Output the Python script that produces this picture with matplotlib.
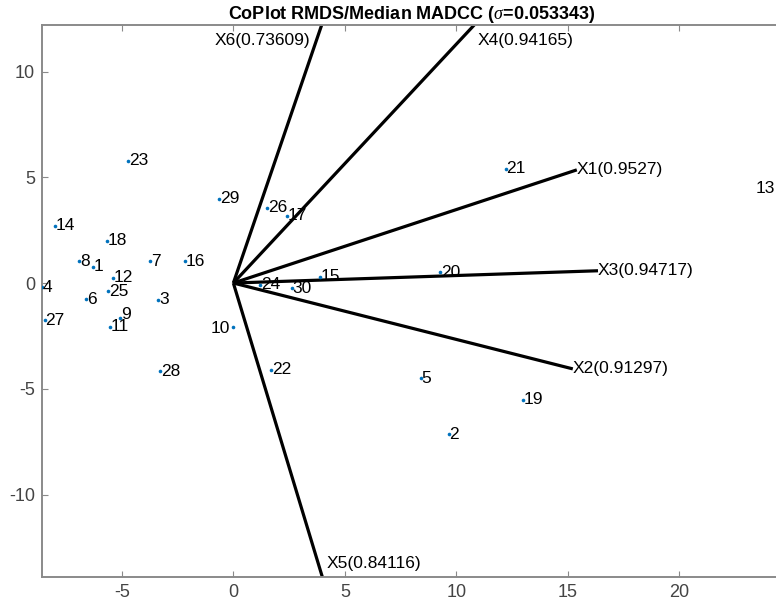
import numpy as np
import matplotlib
matplotlib.use("Agg")
import matplotlib.pyplot as plt

plt.rcParams['font.family'] = ['Liberation Sans', 'DejaVu Sans']
plt.rcParams['axes.unicode_minus'] = False
plt.rcParams['mathtext.fontset'] = 'custom'
plt.rcParams['mathtext.it'] = 'Liberation Serif:italic'

# observations (CoPlot coordinates)
obs_id = list(range(1, 31))
obs_x = [-6.31, 9.65, -3.36, -8.57, 8.40, -6.61, -3.73, -6.91, -5.08, -0.03,
         -5.53, -5.38, 24.60, -8.00, 3.87, -2.16, 2.41, -5.65, 13.00, 9.27,
         12.22, 1.71, -4.71, 1.21, -5.60, 1.51, -8.45, -3.28, -0.63, 2.61]
obs_y = [0.77, -7.15, -0.80, -0.20, -4.51, -0.76, 1.04, 1.04, -1.64, -2.07,
         -2.07, 0.25, 4.45, 2.70, 0.30, 1.04, 3.17, 1.99, -5.51, 0.51,
         5.40, -4.09, 5.77, -0.09, -0.38, 3.56, -1.75, -4.16, 3.98, -0.25]

# variable arrows
var_names = ['X1', 'X2', 'X3', 'X4', 'X5', 'X6']
var_corr = ['0.9527', '0.91297', '0.94717', '0.94165', '0.84116', '0.73609']
var_x = [15.40, 15.22, 16.35, 10.80, 3.99, 3.96]
var_y = [5.35, -4.06, 0.58, 12.20, -13.90, 12.20]

sigma = '0.053343'

# label offsets in points (dx, dy, ha) for the few that differ
obs_offsets = {10: (-2, -1, 'right'), 13: (-5, 0, 'right'), 9: (0.5, 2, 'left')}

fig = plt.figure(figsize=(7.76, 6.02), dpi=100)
ax = fig.add_axes([42 / 776, 25 / 602, 740 / 776, 552 / 602])

# arrows from the origin
for vx, vy in zip(var_x, var_y):
    ax.plot([0, vx], [0, vy], color='black', lw=2.3, solid_capstyle='butt')

# arrow labels (kept inside the box)
for name, c, vx, vy in zip(var_names, var_corr, var_x, var_y):
    ha = 'right' if name == 'X6' else 'left'
    ly = min(max(vy, -13.25), 11.45)
    lx = vx
    if name == 'X6':
        lx = vx - 0.5
    elif name == 'X4':
        lx = vx + 0.15
    elif name == 'X5':
        lx = vx + 0.2
    ax.text(lx, ly, f'{name}({c})', ha=ha, va='center', fontsize=12.5,
            color='black', clip_on=False)

# observation points
ax.plot(obs_x, obs_y, 'o', color='#0072BD', ms=2.6, mew=0, zorder=3)
for i, x, y in zip(obs_id, obs_x, obs_y):
    dx, dy, ha = obs_offsets.get(i, (0.5, 0, 'left'))
    ax.annotate(str(i), (x, y), xytext=(dx, dy), textcoords='offset points',
                ha=ha, va='center', fontsize=12.5, annotation_clip=False)

ax.set_xlim(-8.58, 24.6)
ax.set_ylim(-13.9, 12.2)
ax.set_xticks([-5, 0, 5, 10, 15, 20])
ax.set_yticks([-10, -5, 0, 5, 10])
ax.tick_params(direction='in', length=4.5, width=0.8, colors='#8a8a8a',
               labelcolor='#444444', labelsize=13, top=True, right=True, pad=5)
for s in ax.spines.values():
    s.set_color('#8a8a8a')
    s.set_linewidth(1.4)
ax.spines['right'].set_visible(False)

ax.set_title(r'CoPlot RMDS/Median MADCC ($\sigma$=' + sigma + ')',
             fontsize=13, fontweight='bold', pad=4)

fig.savefig('out.png', dpi=100)
